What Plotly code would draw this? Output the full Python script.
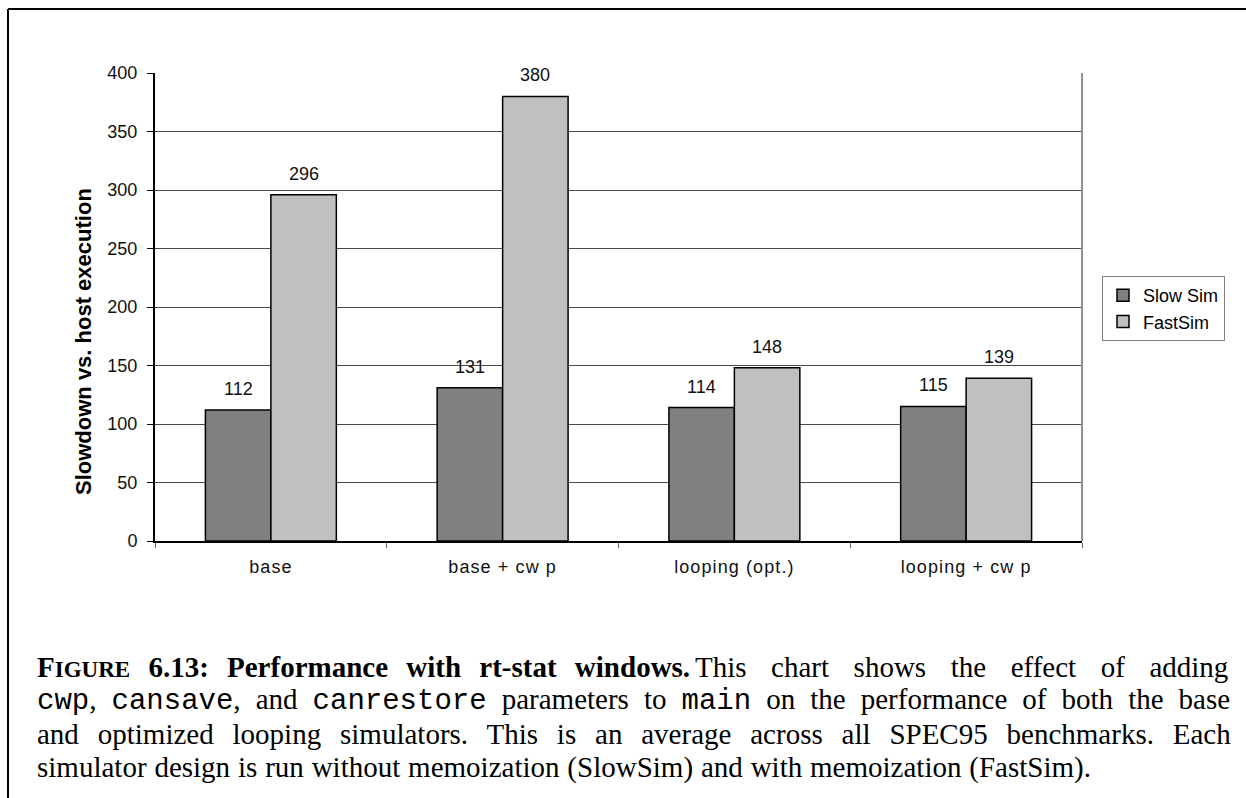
import plotly.graph_objects as go

# Benchmark configurations and measured slowdown (vs. host execution)
categories = ["base", "base + cw p", "looping (opt.)", "looping + cw p"]
slow_sim = [112, 131, 114, 115]
fast_sim = [296, 380, 148, 139]
series_names = ["Slow Sim", "FastSim"]
y_ticks = [0, 50, 100, 150, 200, 250, 300, 350, 400]

W, H = 1246, 798
L, R, T, B = 155, 1082, 73, 541  # plot-area edges in pixels


def px_x(p):
    return (p - L) / (R - L)


def px_y(p):
    return (B - p) / (B - T)


SANS = "Arial, Liberation Sans, sans-serif"
SERIF = "Times New Roman, Liberation Serif, serif"
MONO = "Courier New, Liberation Mono, monospace"

fig = go.Figure()
fig.add_bar(
    x=categories, y=slow_sim, name=series_names[0],
    marker=dict(color="#808080", line=dict(color="#000000", width=1.5)),
)
fig.add_bar(
    x=categories, y=fast_sim, name=series_names[1],
    marker=dict(color="#c0c0c0", line=dict(color="#000000", width=1.5)),
)

# Value labels above each bar
half_bar_px = 32.75
for vals, shift in ((slow_sim, -half_bar_px), (fast_sim, half_bar_px)):
    for c, v in zip(categories, vals):
        fig.add_annotation(
            x=c, y=v, xref="x", yref="y", text=str(v), showarrow=False,
            xshift=shift, yshift=21, font=dict(family=SANS, size=18, color="#111"),
        )

# Y axis title
fig.add_annotation(
    x=px_x(83), y=px_y(342), xref="paper", yref="paper", textangle=-90,
    xanchor="center", yanchor="middle",
    text="<b>Slowdown vs. host execution</b>", showarrow=False,
    font=dict(family=SANS, size=22, color="#000"),
)

# Caption lines (justified lines get extra word spacing)
mono = lambda s: f'<span style="font-family:{MONO}">{s}</span>'
caption = [
    ("<b>F<span style=\"font-size:23px\">IGURE</span> 6.13: Performance with rt-stat windows.</b>",
     11, 35, "left", 667),
    ("This chart shows the effect of adding", 17.3, 1230, "right", 667),
    (f"{mono('cwp')}, {mono('cansave')}, and {mono('canrestore')} parameters to {mono('main')} "
     "on the performance of both the base", 7.8, 35, "left", 700),
    ("and optimized looping simulators. This is an average across all SPEC95 benchmarks. Each",
     11.6, 35, "left", 734),
    ("simulator design is run without memoization (SlowSim) and with memoization (FastSim).",
     0.6, 35, "left", 767),
]
for txt, ws, xx, anchor, yy in caption:
    fig.add_annotation(
        x=px_x(xx), y=px_y(yy), xref="paper", yref="paper", showarrow=False,
        xanchor=anchor, yanchor="middle", align="left",
        text=f'<span style="word-spacing:{ws}px">{txt}</span>',
        font=dict(family=SERIF, size=29, color="#000"),
    )

# Outer frame (top and left edges) and plot-area right border
fig.add_shape(type="line", xref="paper", yref="paper",
              x0=px_x(8), x1=px_x(W + 5), y0=px_y(9), y1=px_y(9),
              line=dict(color="#000", width=2))
fig.add_shape(type="line", xref="paper", yref="paper",
              x0=px_x(8), x1=px_x(8), y0=px_y(9), y1=px_y(H + 5),
              line=dict(color="#000", width=2))
fig.add_shape(type="line", xref="paper", yref="paper",
              x0=1, x1=1, y0=0, y1=1, line=dict(color="#909090", width=2))

fig.update_layout(
    width=W, height=H,
    margin=dict(l=L, r=W - R, t=T, b=H - B, pad=0),
    paper_bgcolor="white", plot_bgcolor="white",
    barmode="group", bargap=0.435, bargroupgap=0,
    showlegend=True,
    legend=dict(
        x=px_x(1102), y=px_y(276), xanchor="left", yanchor="top",
        bordercolor="#808080", borderwidth=1, bgcolor="white",
        font=dict(family=SANS, size=18, color="#000"),
        itemwidth=30, tracegroupgap=0,
    ),
    xaxis=dict(
        tickmode="array", tickvals=categories,
        ticktext=[f'<span style="letter-spacing:1.1px">{c}</span>' for c in categories],
        showline=True, linecolor="#000", linewidth=2,
        ticks="outside", tickson="boundaries", ticklen=5, tickcolor="#666",
        ticklabelstandoff=8,
        tickfont=dict(family=SANS, size=18, color="#111"),
        showgrid=False, zeroline=False,
    ),
    yaxis=dict(
        range=[0, 400], tickvals=y_ticks,
        showline=True, linecolor="#000", linewidth=2,
        ticks="outside", ticklen=6, tickcolor="#000",
        ticklabelstandoff=6,
        tickfont=dict(family=SANS, size=18, color="#111"),
        showgrid=True, gridcolor="#4a4a4a", gridwidth=1, zeroline=False,
    ),
)

fig.write_html("out.html")
